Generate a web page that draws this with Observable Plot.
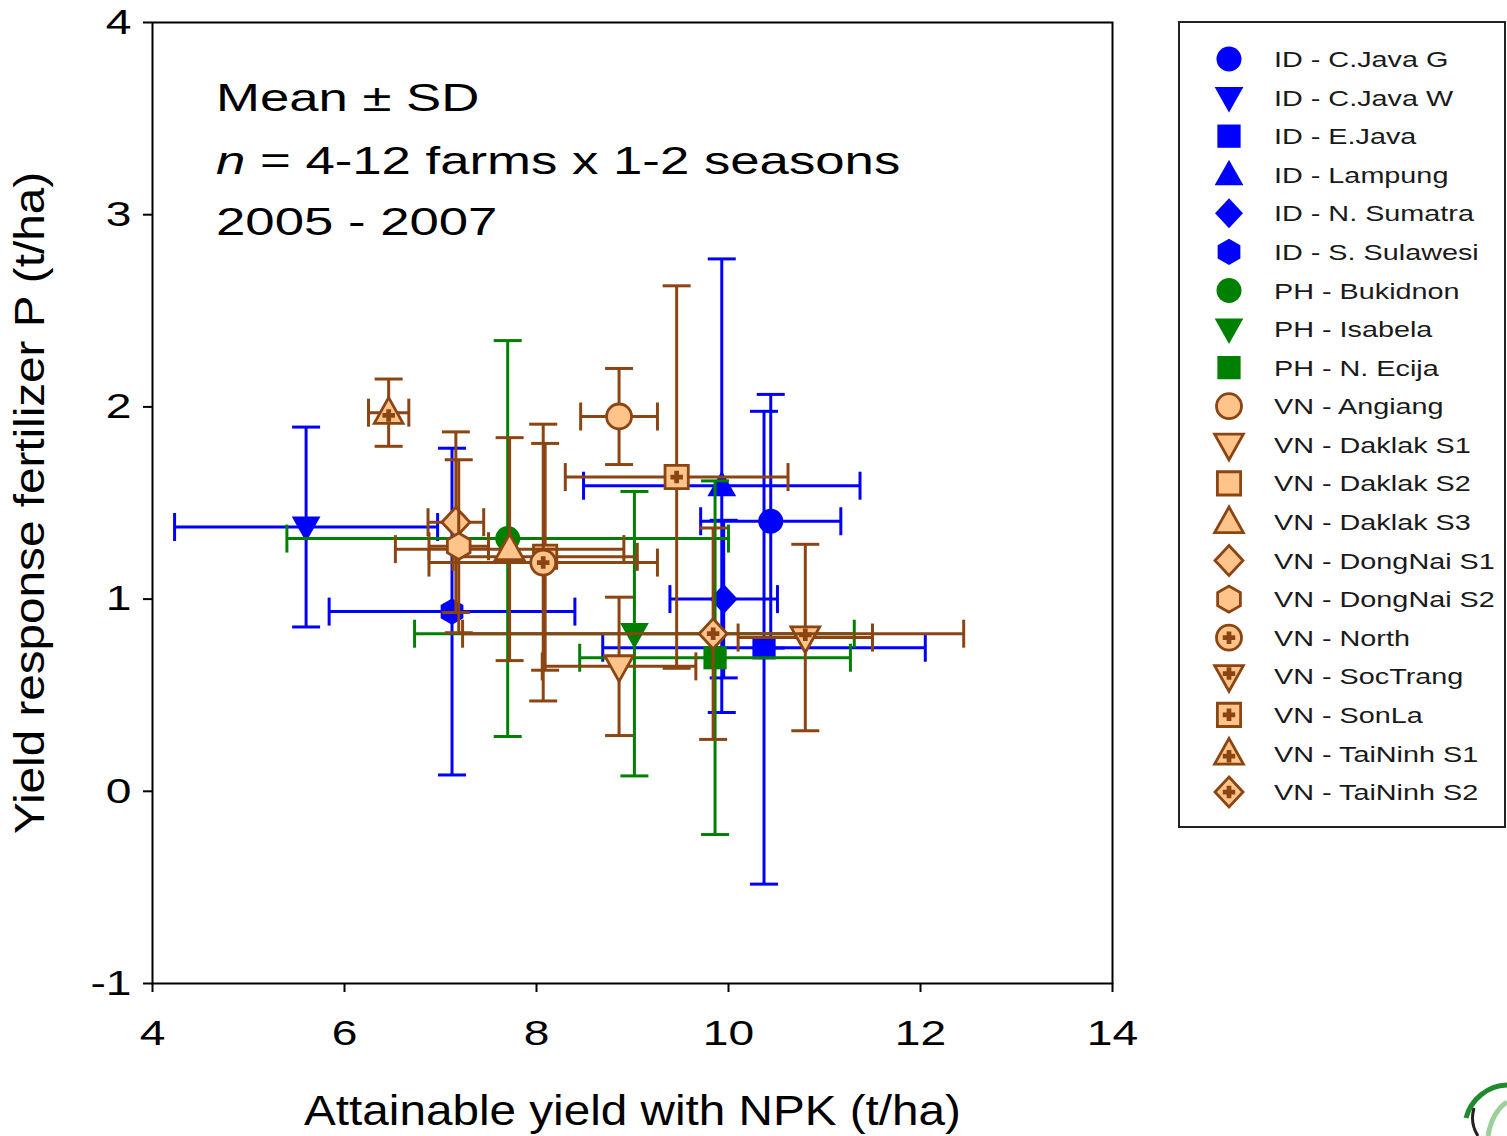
<!DOCTYPE html>
<html><head><meta charset="utf-8">
<script src="https://cdn.jsdelivr.net/npm/d3@7"></script>
<script src="https://cdn.jsdelivr.net/npm/@observablehq/plot@0.6"></script>
<style>
body{margin:0;background:#fff;font-family:"Liberation Sans",Arial,sans-serif}
#wrap{position:relative;width:1507px;height:1136px;overflow:hidden;background:#fff}
</style></head><body><div id="wrap"></div>
<script>
// ---- data ----
const series = ["ID - C.Java G","ID - C.Java W","ID - E.Java","ID - Lampung","ID - N. Sumatra","ID - S. Sulawesi",
  "PH - Bukidnon","PH - Isabela","PH - N. Ecija",
  "VN - Angiang","VN - Daklak S1","VN - Daklak S2","VN - Daklak S3","VN - DongNai S1","VN - DongNai S2",
  "VN - North","VN - SocTrang","VN - SonLa","VN - TaiNinh S1","VN - TaiNinh S2"];
const shapes = ["circle","down","square","up","diamond","hexagon",
  "circle","down","square",
  "circle","down","square","up","diamond","hexagon",
  "circle","down","square","up","diamond"];
const crossed = [false,false,false,false,false,false,false,false,false,false,false,false,false,false,false,true,true,true,true,true];
const xMean = [10.44, 5.60, 10.37, 9.93, 9.95, 7.12, 7.70, 9.02, 9.86, 8.86, 8.86, 8.09, 7.72, 7.16, 7.19, 8.07, 10.80, 9.46, 6.46, 9.84];
const xSD   = [0.73, 1.37, 1.68, 1.44, 0.56, 1.28, 2.30, 2.29, 1.41, 0.40, 0.80, 0.96, 1.19, 0.29, 0.31, 1.19, 0.70, 1.16, 0.21, 2.61];
const yMean = [1.405, 1.375, 0.747, 1.59, 1.00, 0.935, 1.315, 0.82, 0.695, 1.95, 0.65, 1.22, 1.26, 1.40, 1.275, 1.19, 0.80, 1.635, 1.97, 0.82];
const ySD   = [0.66, 0.52, 1.23, 1.18, 0.41, 0.85, 1.03, 0.74, 0.92, 0.25, 0.36, 0.59, 0.58, 0.47, 0.45, 0.72, 0.485, 0.995, 0.175, 0.55];
const xTicks = [4, 6, 8, 10, 12, 14];
const yTicks = [-1, 0, 1, 2, 3, 4];
const xTitle = "Attainable yield with NPK (t/ha)";
const yTitle = "Yield response fertilizer P (t/ha)";
const noteLines = [["", "Mean ± SD"], ["n", " = 4-12 farms x 1-2 seasons"], ["", "2005 - 2007"]];

// ---- styles ----
const blue = "#0000FF", green = "#008000", brown = "#8B4513", peach = "#FFC48A";
const barColor = {ID: blue, PH: green, VN: brown};
const FONT = "'Liberation Sans', Arial, sans-serif";

function poly(pts, k = 1) {
  return {draw(ctx, size) {
    const R = Math.sqrt(size / Math.PI) * k;
    pts.forEach(([a, b], i) => i ? ctx.lineTo(a * R, b * R) : ctx.moveTo(a * R, b * R));
    ctx.closePath();
  }};
}
const SYM = {
  circle: {draw(ctx, size) { const R = Math.sqrt(size / Math.PI); ctx.moveTo(R, 0); ctx.arc(0, 0, R, 0, 2 * Math.PI); }},
  square: poly([[-0.93,-0.93],[0.93,-0.93],[0.93,0.93],[-0.93,0.93]]),
  up: poly([[0,-1.2],[1.15,0.85],[-1.15,0.85]]),
  down: poly([[0,1.2],[1.15,-0.85],[-1.15,-0.85]]),
  diamond: poly([[0,-1.2],[1.12,0],[0,1.2],[-1.12,0]]),
  hexagon: poly(d3.range(6).map(k => [1.05 * Math.cos(Math.PI / 2 + k * Math.PI / 3), 1.05 * Math.sin(Math.PI / 2 + k * Math.PI / 3)]))
};
function plusAt(dy) {
  const a = 0.5, t = 0.19;
  return poly([[-t,-a],[t,-a],[t,-t],[a,-t],[a,t],[t,t],[t,a],[-t,a],[-t,t],[-a,t],[-a,-t],[-t,-t]].map(([x, y]) => [x, y + dy]));
}
const PLUS = {circle: plusAt(0), square: plusAt(0), diamond: plusAt(0), hexagon: plusAt(0), up: plusAt(0.22), down: plusAt(-0.22)};
const hcap = {draw(ctx, size) { const R = Math.sqrt(size / Math.PI); ctx.moveTo(-R, 0); ctx.lineTo(R, 0); }};
const vcap = {draw(ctx, size) { const R = Math.sqrt(size / Math.PI); ctx.moveTo(0, -R); ctx.lineTo(0, R); }};

const rows = series.map((name, i) => {
  const country = name.slice(0, 2);
  return {name, country, shape: shapes[i], crossed: crossed[i],
    x: xMean[i], y: yMean[i], xl: xMean[i] - xSD[i], xh: xMean[i] + xSD[i], yl: yMean[i] - ySD[i], yh: yMean[i] + ySD[i],
    bar: barColor[country], fill: country === "VN" ? peach : barColor[country], stroke: country === "VN" ? brown : "none"};
});

const MR = 12.5, CAP = 14, BW = 3;
const seriesMarks = rows.flatMap(r => {
  const m = [
    Plot.ruleY([r], {y: "y", x1: "xl", x2: "xh", stroke: r.bar, strokeWidth: BW}),
    Plot.ruleX([r], {x: "x", y1: "yl", y2: "yh", stroke: r.bar, strokeWidth: BW}),
    Plot.dot([r], {x: "xl", y: "y", symbol: vcap, r: CAP, fill: "none", stroke: r.bar, strokeWidth: BW}),
    Plot.dot([r], {x: "xh", y: "y", symbol: vcap, r: CAP, fill: "none", stroke: r.bar, strokeWidth: BW}),
    Plot.dot([r], {x: "x", y: "yl", symbol: hcap, r: CAP, fill: "none", stroke: r.bar, strokeWidth: BW}),
    Plot.dot([r], {x: "x", y: "yh", symbol: hcap, r: CAP, fill: "none", stroke: r.bar, strokeWidth: BW}),
    Plot.dot([r], {x: "x", y: "y", symbol: SYM[r.shape], r: MR, fill: r.fill, stroke: r.stroke, strokeWidth: r.country === "VN" ? 2.8 : 0})
  ];
  if (r.crossed) m.push(Plot.dot([r], {x: "x", y: "y", symbol: PLUS[r.shape], r: MR, fill: brown, stroke: "none"}));
  return m;
});

const fmt = d => String(d);
const chart = Plot.plot({
  width: 1507, height: 1136,
  marginLeft: 152, marginRight: 395, marginTop: 22, marginBottom: 153,
  x: {domain: [4, 14]}, y: {domain: [-1, 4]},
  style: {fontFamily: FONT, background: "white", color: "black", overflow: "visible"},
  marks: [
    Plot.frame({stroke: "black", strokeWidth: 2}),
    Plot.axisY({ticks: yTicks, tickSize: 9, tickPadding: 12, fontSize: 35, label: null, tickFormat: fmt, strokeWidth: 2}),
    Plot.axisX({ticks: xTicks, tickSize: 9, tickPadding: 28, fontSize: 35, label: null, tickFormat: fmt, strokeWidth: 2}),
    Plot.text([yTitle], {text: d => d, frameAnchor: "left", dx: -122, rotate: -90, textAnchor: "middle", fontSize: 42, fill: "black"}),
    Plot.text([xTitle], {text: d => d, frameAnchor: "bottom", dy: 141, textAnchor: "middle", fontSize: 42, fill: "black"}),
    ...seriesMarks
  ]
});

const svg = d3.select(chart);
function stretch(sel, s) {
  sel.each(function() { this.setAttribute("transform", (this.getAttribute("transform") || "") + ` scale(${s},1)`); });
}
stretch(svg.selectAll('g[aria-label="y-axis tick label"] text, g[aria-label="x-axis tick label"] text'), 1.32);
stretch(svg.selectAll("text").filter(function() { return this.textContent === xTitle || this.textContent === yTitle; }), 1.135);

// annotation
const noteBase = [111, 174, 235];
const ann = svg.append("g").attr("font-size", 38.5).attr("fill", "black").attr("font-family", FONT).attr("text-anchor", "start");
noteLines.forEach(([it, rest], i) => {
  const t = ann.append("text").attr("transform", `translate(216,${noteBase[i]}) scale(1.37,1)`);
  if (it) t.append("tspan").attr("font-style", "italic").text(it);
  t.append("tspan").text(rest);
});

// partial logo in the lower right corner
const logo = svg.append("g").attr("fill", "none");
logo.append("path").attr("d", "M1466,1118 A44,44 0 0 1 1507,1085").attr("stroke", "#1f8a2e").attr("stroke-width", 5);
logo.append("path").attr("d", "M1478,1136 A34,34 0 0 1 1474,1108").attr("stroke", "#222").attr("stroke-width", 3);
logo.append("path").attr("d", "M1488,1136 Q1492,1112 1507,1102").attr("stroke", "#9ccf9c").attr("stroke-width", 5);

const wrap = document.getElementById("wrap");
wrap.appendChild(chart);

// legend
const leg = d3.create("svg").attr("width", 329).attr("height", 808)
  .style("position", "absolute").style("left", "1178px").style("top", "21px");
leg.append("rect").attr("x", 1).attr("y", 1).attr("width", 326).attr("height", 805)
  .attr("fill", "white").attr("stroke", "#222").attr("stroke-width", 2);
rows.forEach((r, i) => {
  const cy = 38 + i * 38.58;
  const g = leg.append("g").attr("transform", `translate(51,${cy})`);
  const p = d3.path(); SYM[r.shape].draw(p, Math.PI * MR * MR);
  g.append("path").attr("d", p.toString()).attr("fill", r.fill).attr("stroke", r.stroke).attr("stroke-width", r.country === "VN" ? 2.8 : 0);
  if (r.crossed) { const q = d3.path(); PLUS[r.shape].draw(q, Math.PI * MR * MR); g.append("path").attr("d", q.toString()).attr("fill", brown); }
  leg.append("text").attr("transform", `translate(96,${cy}) scale(1.28,1)`).attr("dy", "0.36em").attr("text-anchor", "start")
    .attr("font-size", 22.5).attr("fill", "#1a1a1a").attr("font-family", FONT).text(r.name);
});
wrap.appendChild(leg.node());
</script></body></html>
